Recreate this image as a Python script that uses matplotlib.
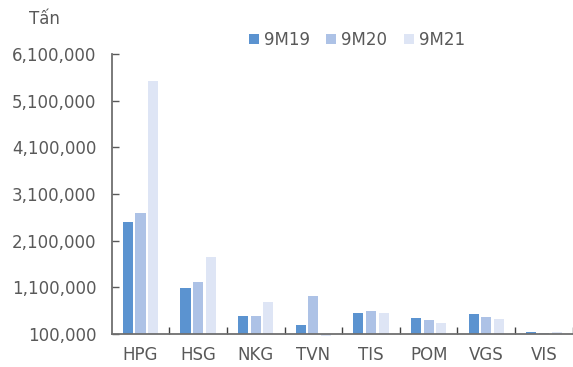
import numpy as np
import matplotlib.pyplot as plt
from matplotlib.ticker import FixedLocator

companies = ["HPG", "HSG", "NKG", "TVN", "TIS", "POM", "VGS", "VIS"]
series = ["9M19", "9M20", "9M21"]
v_9m19 = [2506000, 1079000, 486000, 300000, 557000, 450000, 535000, 150000]
v_9m20 = [2686000, 1221000, 490000, 914000, 593000, 394000, 471000, 128000]
v_9m21 = [5520000, 1743000, 779000, 60000, 557000, 342000, 421000, 145000]
yticks = [100000, 1100000, 2100000, 3100000, 4100000, 5100000, 6100000]

colors = ["#5B93D0", "#ADC2E6", "#DEE5F5"]
text_col = "#595959"
base = 100000

plt.rcParams['font.family'] = ['DejaVu Sans']
fig = plt.figure(figsize=(5.73, 3.67), dpi=100)
ax = fig.add_axes([111.7 / 573, 1 - 334 / 367, 461 / 573, 280 / 367])

x = np.arange(len(companies))
pitch = 0.22
w = 0.175
for i, (vals, c, lab) in enumerate(zip([v_9m19, v_9m20, v_9m21], colors, series)):
    h = [v - base for v in vals]
    ax.bar(x + (i - 1) * pitch, h, w, bottom=base, color=c, label=lab, clip_on=False, zorder=2)

ax.set_xlim(-0.5, len(companies) - 0.5)
ax.set_ylim(base, 6100000)
ax.set_yticks(yticks)
ax.set_yticklabels([f"{t:,}" for t in yticks])
ax.set_xticks(x)
ax.set_xticklabels(companies)
ax.xaxis.set_minor_locator(FixedLocator(np.arange(0.5, len(companies), 1)))

for s in ["top", "right"]:
    ax.spines[s].set_visible(False)
for s in ["left", "bottom"]:
    ax.spines[s].set_color("#6f6f6f")
    ax.spines[s].set_linewidth(1.3)
    ax.spines[s].set_zorder(3)

ax.tick_params(axis="y", direction="in", length=5, width=1, color="#595959",
               labelsize=12, labelcolor=text_col, pad=11)
ax.tick_params(axis="x", which="major", length=0, labelsize=12, labelcolor=text_col, pad=9)
ax.tick_params(axis="x", which="minor", direction="in", length=5, width=1, color="#404040")

fig.text(29 / 573, 1 - 19 / 367, "Tấn", fontsize=12, color=text_col, va="center")
ax.legend(loc="center", bbox_to_anchor=(357 / 573, 1 - 40 / 367), bbox_transform=fig.transFigure,
          ncol=3, frameon=False, fontsize=12, labelcolor=text_col, handlelength=0.6,
          handleheight=0.6, handletextpad=0.3, columnspacing=1.0)

fig.savefig("out.png", dpi=100)
